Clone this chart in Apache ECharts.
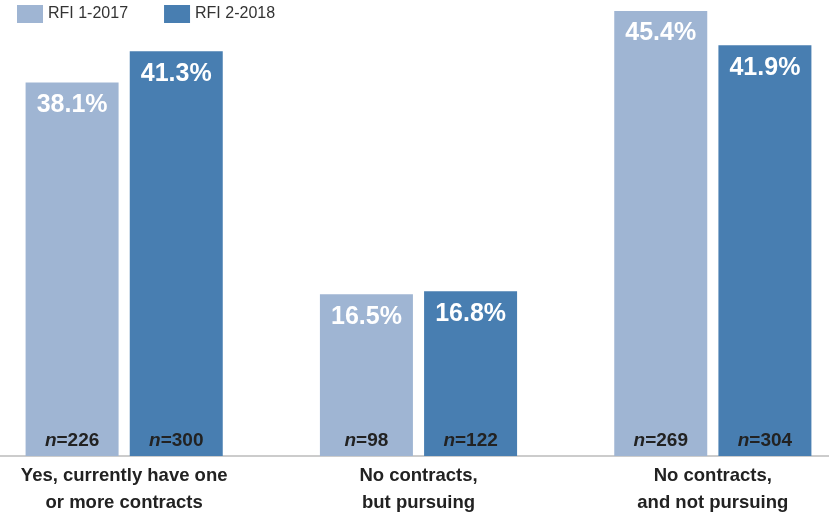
<!DOCTYPE html>
<html><head><meta charset="utf-8">
<script src="https://cdn.jsdelivr.net/npm/echarts@6/dist/echarts.min.js"></script>
<style>html,body{margin:0;padding:0;background:#fff}#c{width:829px;height:519px}</style>
</head><body><div id="c"></div>
<script>
var categories = ['Yes, currently have one\nor more contracts', 'No contracts,\nbut pursuing', 'No contracts,\nand not pursuing'];
var seriesNames = ['RFI 1-2017', 'RFI 2-2018'];
var values2017 = [38.1, 16.5, 45.4];
var values2018 = [41.3, 16.8, 41.9];
var n2017 = [226, 98, 269];
var n2018 = [300, 122, 304];

var FONT = '"Liberation Sans Narrow", "Arial Narrow", "Liberation Sans", Arial, sans-serif';
var colors = ['#9fb5d3', '#487eb1'];

function mkSeries(name, vals, ns, color) {
  return {
    name: name, type: 'bar', barWidth: 93, barGap: '12%',
    itemStyle: { color: color },
    data: vals.map(function (v, i) { return { value: v, n: ns[i] }; }),
    label: {
      show: true, position: 'insideTop', distance: 10,
      formatter: function (p) { return p.value.toFixed(1) + '%'; },
      color: '#fff', fontFamily: FONT, fontWeight: 'bold', fontSize: 25
    }
  };
}
function mkNSeries(name, vals, ns) {
  return {
    name: name + ' n', type: 'bar', barWidth: 93, barGap: '12%',
    itemStyle: { color: 'transparent' }, silent: true,
    data: vals.map(function (v, i) { return { value: v, n: ns[i] }; }),
    label: {
      show: true, position: 'insideBottom', distance: 6,
      formatter: function (p) { return '{i|n}{b|=' + p.data.n + '}'; },
      rich: {
        i: { fontFamily: FONT, fontStyle: 'italic', fontWeight: 'bold', fontSize: 19, color: '#222' },
        b: { fontFamily: FONT, fontWeight: 'bold', fontSize: 19, color: '#222' }
      }
    }
  };
}

var chart = echarts.init(document.getElementById('c'), null, { renderer: 'canvas' });
chart.setOption({
  animation: false,
  legend: {
    left: 17, top: 5, padding: 0, itemWidth: 26, itemHeight: 18, itemGap: 36,
    data: seriesNames,
    textStyle: { fontFamily: FONT, fontSize: 16, color: '#333' },
    icon: 'rect'
  },
  grid: { left: -23, right: -31, top: 11, bottom: 63, containLabel: false, outerBoundsMode: 'none' },
  xAxis: [{
    type: 'category', data: categories,
    axisLine: { lineStyle: { color: '#cccccc', width: 2 } },
    axisTick: { show: false },
    axisLabel: { color: '#222', fontFamily: FONT, fontWeight: 'bold', fontSize: 18.5, lineHeight: 27, margin: 6, interval: 0 }
  }, {
    type: 'category', data: categories, show: false
  }],
  yAxis: { type: 'value', min: 0, max: 45.4, show: false, splitLine: { show: false } },
  series: [
    mkSeries(seriesNames[0], values2017, n2017, colors[0]),
    mkSeries(seriesNames[1], values2018, n2018, colors[1]),
    Object.assign(mkNSeries(seriesNames[0], values2017, n2017), { xAxisIndex: 1 }),
    Object.assign(mkNSeries(seriesNames[1], values2018, n2018), { xAxisIndex: 1 })
  ]
});
</script></body></html>
